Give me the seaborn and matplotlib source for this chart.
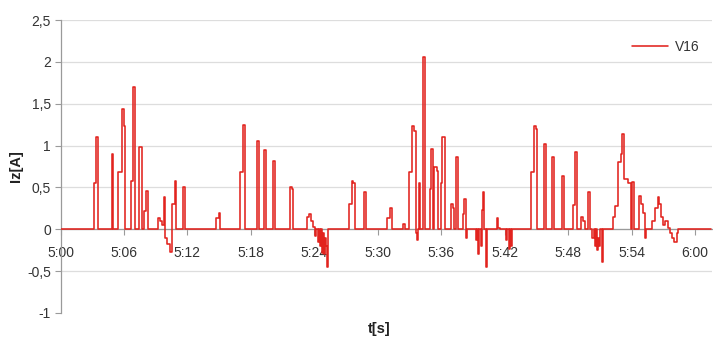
import matplotlib
matplotlib.use("Agg")
import matplotlib.pyplot as plt
import seaborn as sns
import pandas as pd
from matplotlib.ticker import FixedLocator, FixedFormatter

# step change points: time in seconds (from 0:00), value holds until next point
t_sec = [
    300.0, 303.2, 303.4, 303.55, 304.85, 305.0, 305.45, 305.8, 306.0, 306.1,
    306.65, 306.85, 307.05, 307.4, 307.7, 307.9, 308.1, 308.3, 309.2, 309.4,
    309.6, 309.8, 309.9, 310.1, 310.35, 310.5, 310.8, 310.95, 311.6, 311.8,
    314.7, 315.0, 315.1, 317.0, 317.25, 317.45, 318.6, 318.8, 319.25, 319.45,
    320.1, 320.3, 321.7, 321.85, 322.0, 323.3, 323.5, 323.7, 323.9, 324.1,
    324.2, 324.3, 324.4, 324.5, 324.6, 324.7, 324.8, 324.9, 325.0, 325.1,
    325.2, 325.3, 327.3, 327.55, 327.65, 327.8, 328.7, 328.9, 330.9, 331.15,
    331.3, 332.4, 332.6, 332.95, 333.25, 333.45, 333.6, 333.7, 333.8, 333.9,
    334.0, 334.3, 334.5, 334.95, 335.05, 335.25, 335.35, 335.6, 335.7, 336.0,
    336.1, 336.35, 336.95, 337.1, 337.2, 337.4, 337.6, 338.05, 338.15, 338.35,
    338.45, 339.3, 339.4, 339.5, 339.6, 339.75, 339.85, 339.95, 340.05, 340.25,
    340.35, 341.3, 341.4, 341.6, 342.15, 342.25, 342.4, 342.5, 342.6, 342.7,
    344.5, 344.8, 344.95, 345.1, 345.75, 345.95, 346.5, 346.7, 347.45, 347.65,
    348.5, 348.65, 348.8, 349.25, 349.45, 349.6, 349.9, 350.1, 350.3, 350.4,
    350.55, 350.65, 350.75, 350.85, 350.95, 351.05, 351.2, 351.3, 352.25, 352.45,
    352.7, 353.0, 353.1, 353.3, 353.7, 353.9, 354.05, 354.25, 354.7, 354.9,
    355.1, 355.3, 355.4, 355.95, 356.25, 356.45, 356.6, 356.8, 357.0, 357.2,
    357.4, 357.65, 357.85, 358.05, 358.25, 358.4, 361.5,
]
iz = [
    0.0, 0.55, 1.10, 0.0, 0.90, 0.0, 0.68, 1.44, 1.23, 0.0,
    0.58, 1.70, 0.0, 0.98, 0.0, 0.22, 0.46, 0.0, 0.14, 0.10,
    0.05, 0.38, -0.10, -0.18, -0.27, 0.30, 0.58, 0.0, 0.51, 0.0,
    0.13, 0.19, 0.0, 0.68, 1.24, 0.0, 1.06, 0.0, 0.95, 0.0,
    0.81, 0.0, 0.50, 0.48, 0.0, 0.15, 0.18, 0.10, 0.03, -0.08,
    0.0, -0.15, 0.0, -0.20, 0.0, -0.28, -0.05, -0.30, -0.10, -0.20,
    -0.45, 0.0, 0.30, 0.58, 0.55, 0.0, 0.44, 0.0, 0.13, 0.25,
    0.0, 0.06, 0.0, 0.68, 1.23, 1.18, -0.05, -0.13, 0.0, 0.55,
    0.0, 2.06, 0.0, 0.48, 0.96, 0.0, 0.75, 0.70, 0.0, 0.55,
    1.10, 0.0, 0.30, 0.25, 0.0, 0.86, 0.0, 0.18, 0.36, -0.10,
    0.0, -0.13, 0.0, -0.29, 0.0, -0.20, 0.23, 0.45, 0.0, -0.45,
    0.0, 0.13, 0.02, 0.0, -0.13, 0.0, -0.23, 0.0, -0.20, 0.0,
    0.68, 1.23, 1.20, 0.0, 1.02, 0.0, 0.86, 0.0, 0.64, 0.0,
    0.29, 0.92, 0.0, 0.15, 0.10, 0.0, 0.44, 0.0, -0.10, 0.0,
    -0.20, 0.0, -0.25, -0.10, -0.20, 0.0, -0.39, 0.0, 0.15, 0.28,
    0.80, 0.90, 1.14, 0.60, 0.55, 0.0, 0.56, 0.0, 0.40, 0.30,
    0.20, -0.10, 0.0, 0.10, 0.26, 0.38, 0.30, 0.15, 0.05, 0.10,
    0.02, -0.05, -0.10, -0.15, -0.05, 0.0, 0.0,
]

x_ticks = [300, 306, 312, 318, 324, 330, 336, 342, 348, 354, 360]
x_tick_labels = ["5:00", "5:06", "5:12", "5:18", "5:24", "5:30", "5:36",
                 "5:42", "5:48", "5:54", "6:00"]
y_ticks = [-1, -0.5, 0, 0.5, 1, 1.5, 2, 2.5]
y_tick_labels = ["-1", "-0,5", "0", "0,5", "1", "1,5", "2", "2,5"]
series_name = "V16"

sns.set_theme(style="white")
plt.rcParams['font.family'] = ['Liberation Sans', 'DejaVu Sans']

df = pd.DataFrame({"t": t_sec, "Iz": iz})

fig = plt.figure(figsize=(7.13, 3.38), dpi=100)
ax = fig.add_axes([60.5 / 713, 1 - 313 / 338, (712 - 60.5) / 713, (313 - 20) / 338])

sns.lineplot(data=df, x="t", y="Iz", ax=ax, estimator=None, sort=False,
             drawstyle="steps-post", color="#E2231E", linewidth=1.15,
             label=series_name, zorder=3)

ax.set_xlim(300, 361.6)
ax.set_ylim(-1, 2.5)

ax.xaxis.set_major_locator(FixedLocator(x_ticks))
ax.xaxis.set_major_formatter(FixedFormatter(x_tick_labels))
ax.yaxis.set_major_locator(FixedLocator(y_ticks))
ax.yaxis.set_major_formatter(FixedFormatter(y_tick_labels))

ax.yaxis.grid(True, color="#DDDDDD", linewidth=0.9)
ax.set_axisbelow(True)
ax.get_ygridlines()[0].set_visible(False)

for s in ["top", "right"]:
    ax.spines[s].set_visible(False)
ax.spines["bottom"].set_position(("data", 0))
ax.spines["bottom"].set_color("#9A9A9A")
ax.spines["left"].set_color("#9A9A9A")
ax.spines["left"].set_linewidth(0.9)
ax.spines["bottom"].set_linewidth(0.9)

ax.tick_params(axis="x", direction="out", length=4, width=0.8, color="#9A9A9A",
               labelsize=10, labelcolor="#333333", pad=8, bottom=True)
ax.tick_params(axis="y", direction="out", length=4, width=0.8, color="#9A9A9A",
               labelsize=10, labelcolor="#333333", pad=3, left=True)

ax.set_xlabel("t[s]", fontsize=10.5, fontweight="bold", color="#222222")
ax.xaxis.set_label_coords(0.49, -0.03)
ax.set_ylabel("Iz[A]", fontsize=10.5, fontweight="bold", color="#222222")
ax.yaxis.set_label_coords(-0.058, 0.5)

leg = ax.legend(loc="upper right", bbox_to_anchor=(1.0, 0.975), frameon=False,
                fontsize=10, handlelength=2.6, handletextpad=0.5)
for txt in leg.get_texts():
    txt.set_color("#333333")

fig.savefig("out.png", dpi=100)
